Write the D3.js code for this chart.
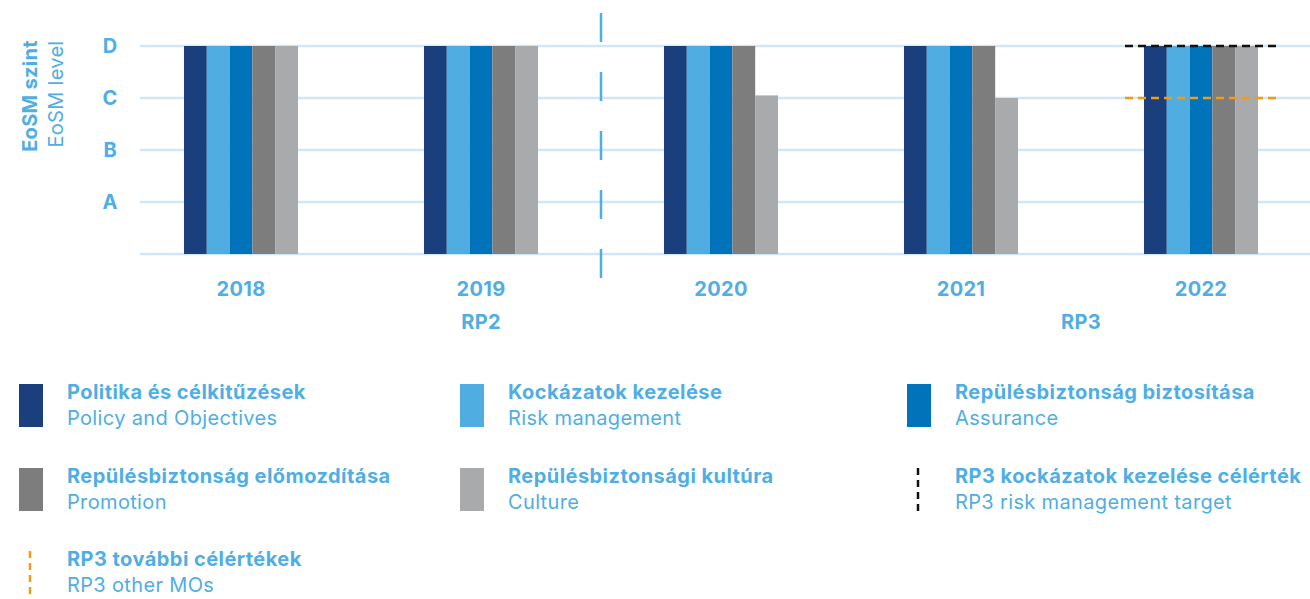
<!DOCTYPE html>
<html>
<head>
<meta charset="utf-8">
<script src="https://cdn.jsdelivr.net/npm/d3@7"></script>
<style>
  body { margin: 0; background: #fff; }
  svg { display: block; font-family: "Inter", "Liberation Sans", sans-serif; }
</style>
</head>
<body>
<svg id="chart" width="1310" height="599"></svg>
<script>
// data
var years = ["2018", "2019", "2020", "2021", "2022"];
var levels = ["", "A", "B", "C", "D"];
var seriesHu = ["Politika és célkitűzések", "Kockázatok kezelése", "Repülésbiztonság biztosítása", "Repülésbiztonság előmozdítása", "Repülésbiztonsági kultúra"];
var seriesEn = ["Policy and Objectives", "Risk management", "Assurance", "Promotion", "Culture"];
var seriesColors = ["#1b3f7c", "#50ade2", "#0073ba", "#7e7d7e", "#a9aaac"];
var policy = [4, 4, 4, 4, 4];
var risk = [4, 4, 4, 4, 4];
var assurance = [4, 4, 4, 4, 4];
var promotion = [4, 4, 4, 4, 4];
var culture = [4, 4, 3.05, 3, 4];
var riskTarget = { year: "2022", value: 4 };
var otherTarget = { year: "2022", value: 3 };
var periods = [{ label: "RP2", from: "2019", to: "2019" }, { label: "RP3", from: "2021", to: "2022" }];

var allSeries = [policy, risk, assurance, promotion, culture];
var textColor = "#4faee3";
var gridColor = "#cfe7f6";

var svg = d3.select("#chart");

var x = d3.scaleBand().domain(years).range([121, 1321]).paddingInner(0.525).paddingOuter(0.2625);
var xs = d3.scaleBand().domain(d3.range(5)).range([0, x.bandwidth()]);
var y = d3.scaleLinear().domain([0, 4]).range([254, 46]);

// grid lines
svg.append("g").selectAll("line")
    .data(d3.range(5))
    .enter().append("line")
    .attr("x1", 140).attr("x2", 1310)
    .attr("y1", function (d) { return y(d); })
    .attr("y2", function (d) { return y(d); })
    .attr("stroke", gridColor).attr("stroke-width", 2.5);

// y labels
svg.append("g").selectAll("text")
    .data(levels)
    .enter().append("text")
    .attr("x", 110)
    .attr("y", function (d, i) { return y(i) + 7; })
    .attr("text-anchor", "middle")
    .attr("font-size", 20).attr("font-weight", 700)
    .attr("fill", textColor)
    .text(function (d) { return d; });

// axis title
svg.append("text")
    .attr("transform", "translate(37,96) rotate(-90)")
    .attr("text-anchor", "middle")
    .attr("font-size", 20).attr("font-weight", 700).attr("fill", textColor)
    .attr("letter-spacing", 0.3)
    .text("EoSM szint");
svg.append("text")
    .attr("transform", "translate(63,94) rotate(-90)")
    .attr("text-anchor", "middle")
    .attr("font-size", 20).attr("fill", textColor)
    .attr("letter-spacing", 0.3)
    .text("EoSM level");

// bars
var groups = svg.append("g").selectAll("g")
    .data(years)
    .enter().append("g")
    .attr("transform", function (d) { return "translate(" + x(d) + ",0)"; });

groups.selectAll("rect")
    .data(function (d, yi) { return allSeries.map(function (s, si) { return { si: si, v: s[yi] }; }); })
    .enter().append("rect")
    .attr("x", function (d) { return xs(d.si); })
    .attr("width", xs.bandwidth())
    .attr("y", function (d) { return y(d.v); })
    .attr("height", function (d) { return y(0) - y(d.v); })
    .attr("fill", function (d) { return seriesColors[d.si]; });

// period divider
var divX = (x("2019") + x.bandwidth() + x("2020")) / 2;
svg.append("line")
    .attr("x1", divX).attr("x2", divX)
    .attr("y1", 13).attr("y2", 278)
    .attr("stroke", textColor).attr("stroke-width", 2.5)
    .attr("stroke-dasharray", "29,30");

// targets
function drawTarget(t, color) {
    svg.append("line")
        .attr("x1", x(t.year) - 19).attr("x2", x(t.year) + x.bandwidth() + 21)
        .attr("y1", y(t.value)).attr("y2", y(t.value))
        .attr("stroke", color).attr("stroke-width", 2.5)
        .attr("stroke-dasharray", "8,5");
}
drawTarget(riskTarget, "#111");
drawTarget(otherTarget, "#f39c12");

// x labels
svg.append("g").selectAll("text")
    .data(years)
    .enter().append("text")
    .attr("x", function (d) { return x(d) + x.bandwidth() / 2; })
    .attr("y", 296)
    .attr("text-anchor", "middle")
    .attr("font-size", 20).attr("font-weight", 700).attr("fill", textColor)
    .attr("letter-spacing", 0.3)
    .text(function (d) { return d; });

svg.append("g").selectAll("text")
    .data(periods)
    .enter().append("text")
    .attr("x", function (d) { return (x(d.from) + x(d.to) + x.bandwidth()) / 2; })
    .attr("y", 329)
    .attr("text-anchor", "middle")
    .attr("font-size", 20).attr("font-weight", 700).attr("fill", textColor)
    .attr("letter-spacing", 0.3)
    .text(function (d) { return d.label; });

// legend
var legendItems = seriesHu.map(function (h, i) { return { hu: h, en: seriesEn[i], type: "bar", color: seriesColors[i] }; });
legendItems.push({ hu: "RP3 kockázatok kezelése célérték", en: "RP3 risk management target", type: "dash", color: "#111" });
legendItems.push({ hu: "RP3 további célértékek", en: "RP3 other MOs", type: "dash", color: "#f39c12" });

var colX = [19, 460, 907];
var rowY = [384, 468, 551];

var leg = svg.append("g").selectAll("g")
    .data(legendItems)
    .enter().append("g")
    .attr("transform", function (d, i) { return "translate(" + colX[i % 3] + "," + rowY[Math.floor(i / 3)] + ")"; });

leg.filter(function (d) { return d.type === "bar"; })
    .append("rect")
    .attr("width", 24).attr("height", 43)
    .attr("fill", function (d) { return d.color; });

leg.filter(function (d) { return d.type === "dash"; })
    .append("line")
    .attr("x1", 11).attr("x2", 11).attr("y1", 0).attr("y2", 43)
    .attr("stroke", function (d) { return d.color; })
    .attr("stroke-width", 2.5)
    .attr("stroke-dasharray", "7,5");

leg.append("text")
    .attr("x", 48).attr("y", 15)
    .attr("font-size", 20).attr("font-weight", 700).attr("fill", textColor)
    .attr("letter-spacing", 0.45)
    .text(function (d) { return d.hu; });

leg.append("text")
    .attr("x", 48).attr("y", 41)
    .attr("font-size", 20).attr("fill", textColor)
    .attr("letter-spacing", 0.35)
    .text(function (d) { return d.en; });
</script>
</body>
</html>
